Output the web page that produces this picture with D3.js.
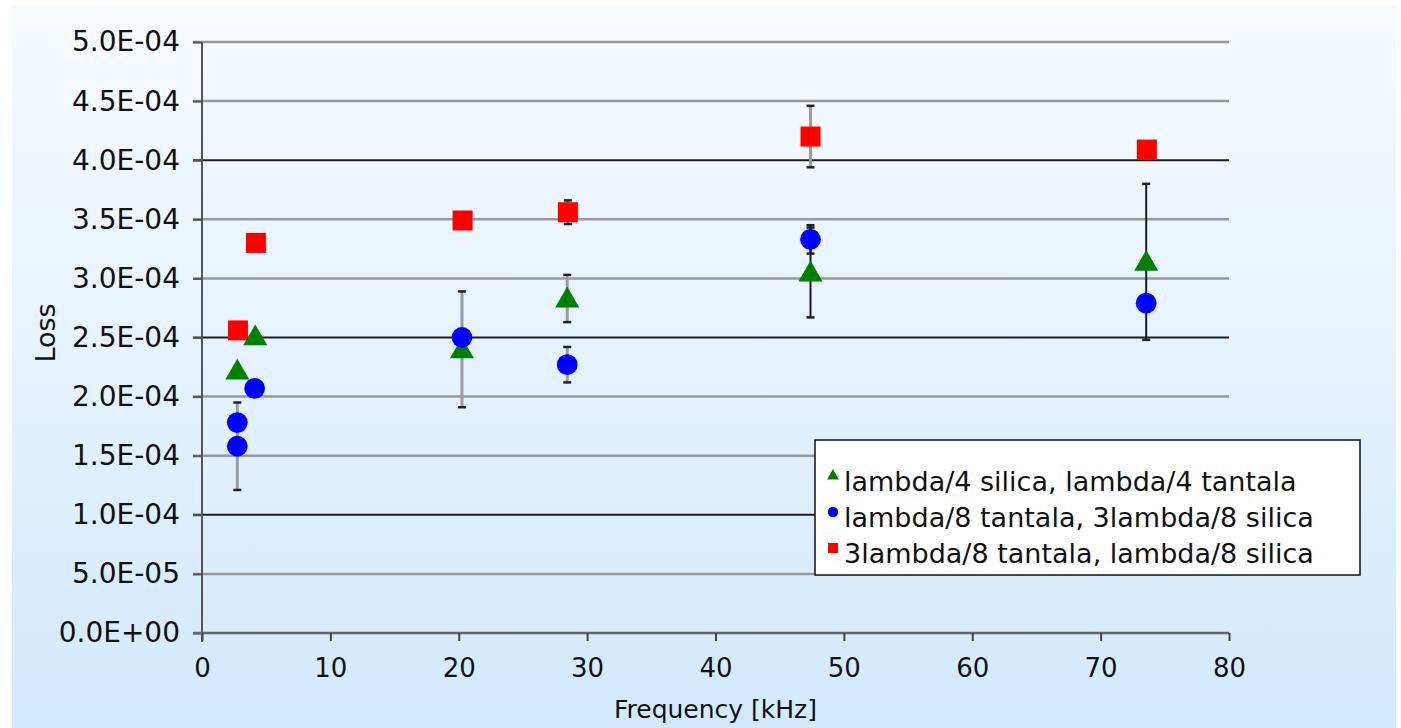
<!DOCTYPE html>
<html>
<head>
<meta charset="utf-8">
<script src="https://cdn.jsdelivr.net/npm/d3@7"></script>
<style>
  body { margin: 0; background: #ffffff; }
  text { font-family: "DejaVu Sans", Verdana, sans-serif; fill: #111; }
</style>
</head>
<body>
<div id="chart"></div>
<script>
// values (loss is dimensionless, frequency in kHz)
var freqGreen = [2.75, 4.15, 20.25, 28.45, 47.4, 73.55];
var lossGreen = [2.22e-4, 2.51e-4, 2.40e-4, 2.83e-4, 3.05e-4, 3.14e-4];
var errGreen  = [0, 0, 0.49e-4, 0.20e-4, 0.38e-4, 0.66e-4];

var freqBlue = [2.75, 2.75, 4.1, 20.25, 28.45, 47.4, 73.55];
var lossBlue = [1.78e-4, 1.58e-4, 2.07e-4, 2.50e-4, 2.27e-4, 3.33e-4, 2.79e-4];
var errBlue  = [0, 0.37e-4, 0, 0, 0.15e-4, 0.12e-4, 0];

var freqRed = [2.8, 4.2, 20.3, 28.5, 47.4, 73.6];
var lossRed = [2.56e-4, 3.30e-4, 3.49e-4, 3.56e-4, 4.20e-4, 4.09e-4];
var errRed  = [0, 0, 0, 0.10e-4, 0.26e-4, 0];

var seriesNames = ["lambda/4 silica, lambda/4 tantala",
                   "lambda/8 tantala, 3lambda/8 silica",
                   "3lambda/8 tantala, lambda/8 silica"];

var yTicks = [0, 5e-5, 1e-4, 1.5e-4, 2e-4, 2.5e-4, 3e-4, 3.5e-4, 4e-4, 4.5e-4, 5e-4];
var xTicks = [0, 10, 20, 30, 40, 50, 60, 70, 80];
var darkGrid = [1e-4, 2.5e-4, 4e-4];

function sci(v) {
    // 5.0E-04 style labels
    var p = v.toExponential(1).split("e");
    var e = +p[1];
    return p[0] + "E" + (e < 0 ? "-" : "+") + String(Math.abs(e)).padStart(2, "0");
}

function init(){

    var w = 1401;
    var h = 728;

    var svg = d3.select("#chart")
        .append("svg")
        .attr("width", w)
        .attr("height", h);

    var grad = svg.append("defs").append("linearGradient")
        .attr("id", "bg")
        .attr("x1", 0).attr("y1", 0).attr("x2", 0).attr("y2", 1);
    grad.append("stop").attr("offset", "0%").attr("stop-color", "#f7fbff");
    grad.append("stop").attr("offset", "100%").attr("stop-color", "#d2e9fc");

    svg.append("rect")
        .attr("x", 12).attr("y", 6)
        .attr("width", 1384).attr("height", 722)
        .attr("fill", "url(#bg)");

    var x = d3.scaleLinear().domain([0, 80]).range([202, 1229]);
    var y = d3.scaleLinear().domain([0, 5e-4]).range([633, 42]);

    // horizontal grid
    svg.selectAll(".grid")
        .data(yTicks.slice(1))
        .enter()
        .append("line")
        .attr("x1", x(0) - 9)
        .attr("x2", x(80))
        .attr("y1", d => y(d))
        .attr("y2", d => y(d))
        .attr("stroke", d => darkGrid.some(g => Math.abs(g - d) < 1e-9) ? "#1e1e1e" : "#999")
        .attr("stroke-width", d => darkGrid.some(g => Math.abs(g - d) < 1e-9) ? 2 : 2.5);

    // y axis
    var yAxis = d3.axisLeft(y)
        .tickValues(yTicks)
        .tickFormat(sci)
        .tickSize(9)
        .tickPadding(13);
    var gy = svg.append("g")
        .attr("transform", "translate(" + x(0) + ",0)")
        .call(yAxis);
    gy.select(".domain").attr("stroke", "#555").attr("stroke-width", 2)
        .attr("d", "M0," + y(5e-4) + "V" + (y(0) + 9));
    gy.selectAll(".tick line").attr("stroke", "#555").attr("stroke-width", 2);
    gy.selectAll(".tick text")
        .style("font-size", "28px")
        .style("font-family", "DejaVu Sans, sans-serif")
        .attr("fill", "#111");

    // x axis
    var xAxis = d3.axisBottom(x)
        .tickValues(xTicks)
        .tickSize(8)
        .tickPadding(18);
    var gx = svg.append("g")
        .attr("transform", "translate(0," + y(0) + ")")
        .call(xAxis);
    gx.select(".domain").attr("stroke", "#666").attr("stroke-width", 2.5)
        .attr("d", "M" + (x(0) - 9) + ",0H" + x(80));
    gx.selectAll(".tick line").attr("stroke", "#444").attr("stroke-width", 2);
    gx.selectAll(".tick text")
        .style("font-size", "26px")
        .style("font-family", "DejaVu Sans, sans-serif")
        .attr("fill", "#111");

    svg.append("text")
        .attr("x", (x(0) + x(80)) / 2)
        .attr("y", 718)
        .attr("text-anchor", "middle")
        .style("font-size", "25px")
        .text("Frequency [kHz]");

    svg.append("text")
        .attr("transform", "translate(55," + 333 + ") rotate(-90)")
        .attr("text-anchor", "middle")
        .style("font-size", "27px")
        .text("Loss");

    var series = [
        {name: seriesNames[0], f: freqGreen, v: lossGreen, e: errGreen, color: "#008000", shape: d3.symbolTriangle, size: 250},
        {name: seriesNames[1], f: freqBlue, v: lossBlue, e: errBlue, color: "#0000ff", shape: d3.symbolCircle, size: 340},
        {name: seriesNames[2], f: freqRed, v: lossRed, e: errRed, color: "#ff0000", shape: d3.symbolSquare, size: 400}
    ];

    series.forEach(function(s) {
        s.points = s.f.map(function(f, i) { return {f: f, v: s.v[i], e: s.e[i]}; });
    });

    // error bars
    series.forEach(function(s, si) {
        var bars = s.points.filter(d => d.e > 0);
        var g = svg.append("g");
        g.selectAll("line.bar")
            .data(bars)
            .enter()
            .append("line")
            .attr("x1", d => x(d.f)).attr("x2", d => x(d.f))
            .attr("y1", d => y(d.v + d.e)).attr("y2", d => y(d.v - d.e))
            .attr("stroke", d => (si < 2 && d.f > 40) ? "#1a1a1a" : "#9c9c9c")
            .attr("stroke-width", d => (si < 2 && d.f > 40) ? 2 : 3);
        [1, -1].forEach(function(sign) {
            g.selectAll("line.cap" + sign)
                .data(bars)
                .enter()
                .append("line")
                .attr("x1", d => x(d.f) - 4).attr("x2", d => x(d.f) + 4)
                .attr("y1", d => y(d.v + sign * d.e)).attr("y2", d => y(d.v + sign * d.e))
                .attr("stroke", "#222")
                .attr("stroke-width", 2.5);
        });
    });

    // markers
    [2, 0, 1].forEach(function(si) {
        var s = series[si];
        svg.append("g").selectAll("path")
            .data(s.points)
            .enter()
            .append("path")
            .attr("transform", d => "translate(" + x(d.f) + "," + (y(d.v) + (si === 0 ? 2 : 0)) + ")")
            .attr("d", d3.symbol().type(s.shape).size(s.size))
            .attr("fill", s.color);
    });

    // legend
    var legend = svg.append("g").attr("transform", "translate(815,440)");
    legend.append("rect")
        .attr("width", 545).attr("height", 135)
        .attr("fill", "#fff")
        .attr("stroke", "#111")
        .attr("stroke-width", 1.5);
    var rows = legend.selectAll("g.row")
        .data(series)
        .enter()
        .append("g")
        .attr("transform", (d, i) => "translate(0," + (51 + i * 36) + ")");
    rows.append("path")
        .attr("transform", "translate(18,-15)")
        .attr("d", d => d3.symbol().type(d.shape).size(d.size / 4)())
        .attr("fill", d => d.color);
    rows.append("text")
        .attr("x", 29)
        .attr("y", 0)
        .style("font-size", "27px")
        .text(d => d.name);
}
window.onload = init;
</script>
</body>
</html>
